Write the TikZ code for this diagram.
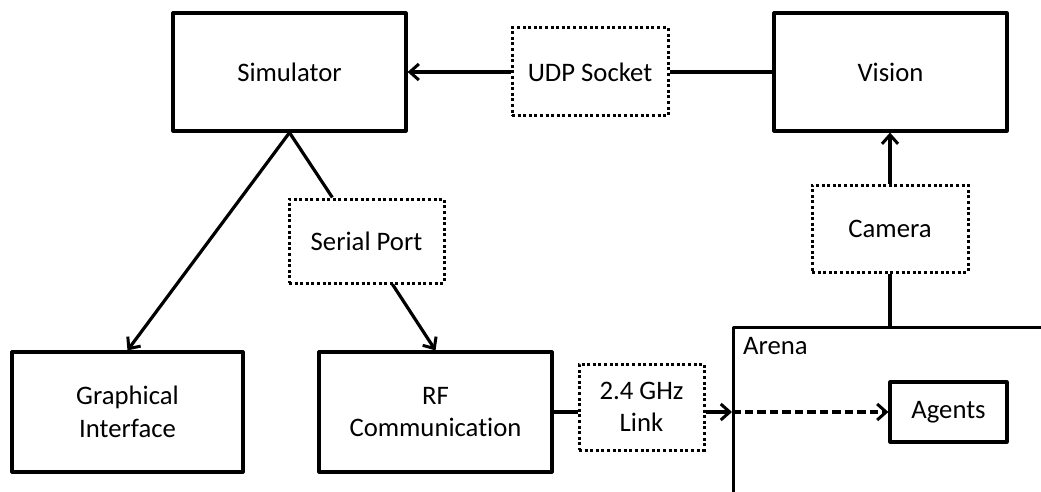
\documentclass[tikz,border=0pt]{standalone}
\usepackage{fontspec}
\setmainfont[Ligatures=NoCommon]{Carlito}
\usetikzlibrary{arrows.meta,calc}
\begin{document}
\begin{tikzpicture}[x=1pt,y=-1pt,
  every node/.style={font=\fontsize{26.7}{32.6}\selectfont, align=center, inner sep=0pt},
  solidbox/.style={draw, line width=3.2pt, line join=round},
  portbox/.style={draw, line width=3pt, dash pattern=on 3pt off 2.6pt},
  link/.style={line width=3.2pt},
  flow/.style={link, -{Straight Barb[length=9pt,width=16pt,line width=3pt]}},
]
\useasboundingbox (0,0) rectangle (1041,492);
\clip (0,0) rectangle (1041,492);

% main blocks
\node[solidbox, minimum width=233pt, minimum height=118pt] (sim) at (289.5,72) {Simulator};
\node[solidbox, minimum width=233pt, minimum height=118pt] (vis) at (890.5,72) {Vision};
\node[solidbox, minimum width=231pt, minimum height=120pt] (gui) at (127.5,412) {Graphical\\Interface};
\node[solidbox, minimum width=233pt, minimum height=120pt] (rf)  at (435.5,412) {RF\\Communication};

% interfaces
\node[portbox, minimum width=156pt, minimum height=88pt] (udp) at (590,72) {UDP Socket};
\node[portbox, minimum width=156pt, minimum height=87pt] (cam) at (890,228.5) {Camera};
\node[portbox, minimum width=155pt, minimum height=84pt] (ser) at (366.5,241) {Serial Port};
\node[portbox, minimum width=125pt, minimum height=86pt] (lnk) at (641.5,407) {2.4 GHz\\Link};

% arena (runs off the right and bottom edges)
\node[solidbox, minimum width=340pt, minimum height=200pt, anchor=north west] (arena) at (732,326) {};
\node[anchor=north west] (arenalbl) at (743,337) {Arena};
\node[solidbox, minimum width=117pt, minimum height=60pt] (agents) at (948.5,412) {Agents};

% connections
\draw[flow] (udp.west) -- (sim.east);
\draw[link] (vis.west) -- (udp.east);
\draw[flow] (cam.north) -- (cam.north |- vis.south);
\draw[link] (cam.south) -- (cam.south |- arena.north);
\draw[flow] (sim.south) -- (gui.north);
\draw[link] (sim.south) -- ($(ser.north west)!0.284!(ser.north east)$);
\draw[flow] ($(ser.south west)!0.665!(ser.south east)$) -- (rf.north);
\draw[link] (rf.east) -- (lnk.west |- rf.east);
\draw[flow] (lnk.east |- rf.east) -- (arena.west |- rf.east);
\draw[flow, dash pattern=on 8.5pt off 4pt] (arena.west |- agents.west) -- (agents.west);
\end{tikzpicture}
\end{document}
